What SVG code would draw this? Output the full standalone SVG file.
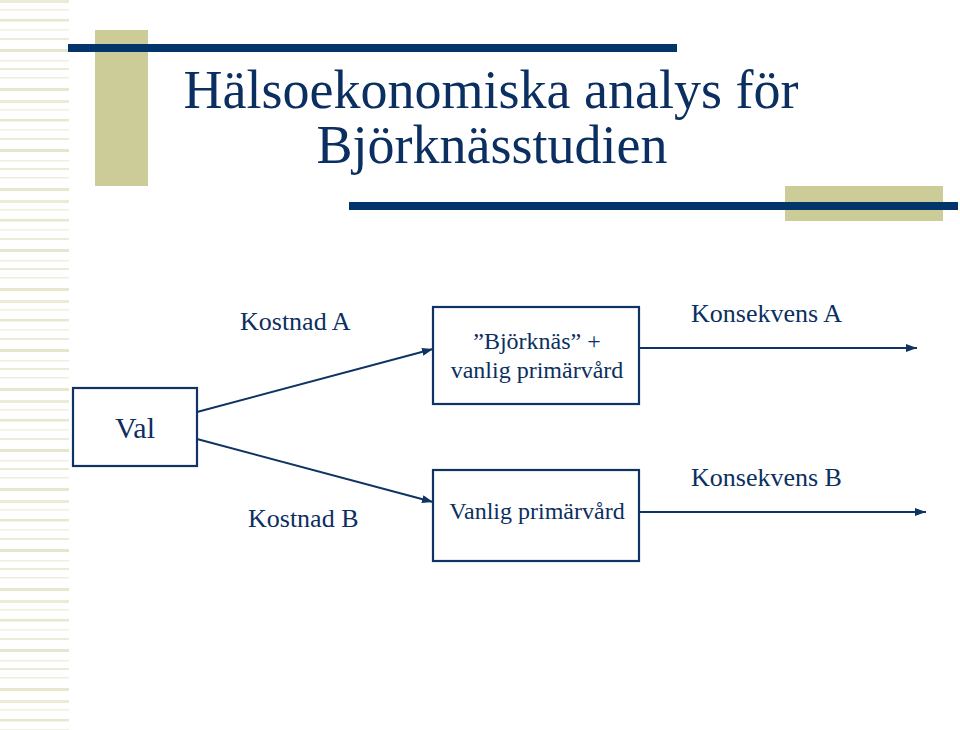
<svg xmlns="http://www.w3.org/2000/svg" width="960" height="730" viewBox="0 0 960 730">
  <defs>
    <style>
      .t { font-family: "Liberation Serif", "Times New Roman", serif; fill: #0b2f60; }
      .title { font-size: 54px; text-anchor: middle; }
      .lbl { font-size: 26px; }
      .box { fill: #ffffff; stroke: #0f3463; stroke-width: 2.2; }
      .con { stroke: #0f3463; stroke-width: 2; fill: none; }
      .bar { fill: #03356a; }
      .khaki { fill: #cccc99; }
    </style>
    <marker id="ah" viewBox="0 0 11 8" refX="11" refY="4" markerWidth="11" markerHeight="8" markerUnits="userSpaceOnUse" orient="auto">
      <path d="M0,0 L11,4 L0,8 Z" fill="#0f3463"/>
    </marker>
    <pattern id="stripes" x="0" y="0" width="69" height="100" patternUnits="userSpaceOnUse">
      <rect x="0" y="0" width="69" height="3" fill="#ebebd6"/>
      <rect x="0" y="9" width="69" height="1.5" fill="#f0f0e0"/>
      <rect x="0" y="19" width="69" height="2.5" fill="#e8e8d0"/>
      <rect x="0" y="29" width="69" height="1.5" fill="#f1f1e3"/>
      <rect x="0" y="38" width="69" height="2" fill="#ececd8"/>
      <rect x="0" y="49" width="69" height="3" fill="#e6e6cc"/>
      <rect x="0" y="60" width="69" height="1.5" fill="#f0f0e0"/>
      <rect x="0" y="68" width="69" height="2" fill="#ebebd6"/>
      <rect x="0" y="77" width="69" height="1.5" fill="#eeeedc"/>
      <rect x="0" y="88" width="69" height="3" fill="#e7e7ce"/>
    </pattern>
  </defs>
  <rect width="960" height="730" fill="#ffffff"/>
  <g id="background">
    <rect x="0" y="0" width="69" height="730" fill="url(#stripes)"/>
    <rect class="khaki" x="95" y="30" width="53" height="156"/>
    <rect class="bar" x="68" y="44" width="609" height="8"/>
    <rect class="khaki" x="785" y="186" width="158" height="35"/>
    <rect class="bar" x="349" y="202" width="609" height="8"/>
  </g>
  <g id="title">
    <text class="t title" x="491" y="108">Hälsoekonomiska analys för</text>
    <text class="t title" x="492" y="163">Björknässtudien</text>
  </g>
  <g id="connectors">
    <line class="con" x1="197" y1="412" x2="433" y2="349" marker-end="url(#ah)"/>
    <line class="con" x1="197" y1="439" x2="433" y2="502" marker-end="url(#ah)"/>
    <line class="con" x1="640" y1="348" x2="917" y2="348" marker-end="url(#ah)"/>
    <line class="con" x1="640" y1="512" x2="926" y2="512" marker-end="url(#ah)"/>
    <text class="t lbl" x="240" y="330">Kostnad A</text>
    <text class="t lbl" x="248" y="527">Kostnad B</text>
    <text class="t lbl" x="691" y="322">Konsekvens A</text>
    <text class="t lbl" x="691" y="486">Konsekvens B</text>
  </g>
  <g id="node-val">
    <rect class="box" x="73" y="388" width="124" height="78"/>
    <text class="t" x="135" y="438" font-size="30" text-anchor="middle">Val</text>
  </g>
  <g id="node-bjorknas">
    <rect class="box" x="433" y="307" width="206" height="97"/>
    <text class="t" x="537" y="349" font-size="24" text-anchor="middle">”Björknäs” +</text>
    <text class="t" x="537" y="378" font-size="24" text-anchor="middle">vanlig primärvård</text>
  </g>
  <g id="node-vanlig">
    <rect class="box" x="433" y="470" width="206" height="91"/>
    <text class="t" x="537" y="519" font-size="24" text-anchor="middle">Vanlig primärvård</text>
  </g>
</svg>
